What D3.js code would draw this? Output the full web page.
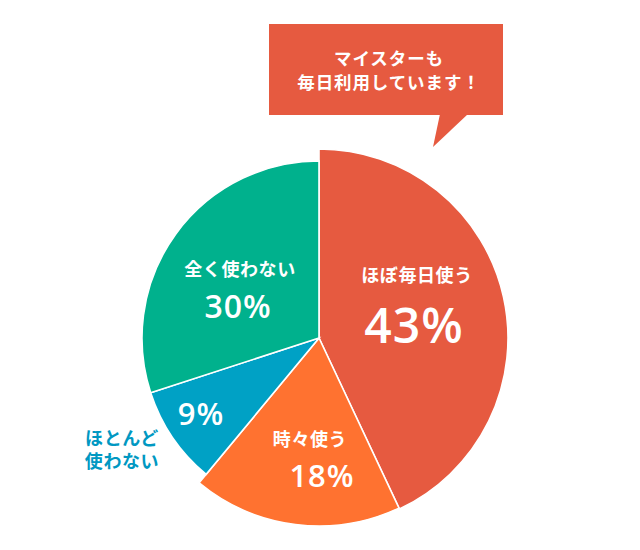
<!DOCTYPE html>
<html>
<head>
<meta charset="utf-8">
<script src="https://cdn.jsdelivr.net/npm/d3@7/dist/d3.min.js"></script>
<style>
  html, body { margin: 0; padding: 0; background: #fff; }
  svg { display: block; }
</style>
</head>
<body>
<svg id="chart" width="640" height="550"></svg>
<script>
// ---- data ----
const categories = ["ほぼ毎日使う", "時々使う", "ほとんど使わない", "全く使わない"];
const values = [43, 18, 9, 30];
const valueLabels = ["43%", "18%", "9%", "30%"];
const calloutLines = ["マイスターも", "毎日利用しています！"];
const outsideLines = ["ほとんど", "使わない"];

// ---- styles ----
const colors = ["#E65A40", "#FF7230", "#00A1C5", "#00B18D"];
const radii = [189, 188, 177, 177];
const cx = 319, cy = 338;
const jpFont = "'Noto Sans CJK JP', 'Noto Sans', sans-serif";
const numFont = "'Open Sans', 'Noto Sans', sans-serif";

const svg = d3.select("#chart");

// callout
const callout = svg.append("g");
callout.append("rect")
  .attr("x", 269).attr("y", 24).attr("width", 234).attr("height", 91)
  .attr("fill", colors[0]);
callout.append("path")
  .attr("d", "M440,114 L468,114 L433,147 Z")
  .attr("fill", colors[0]);
const ct = callout.append("text")
  .attr("text-anchor", "middle")
  .attr("fill", "#fff")
  .attr("font-family", jpFont)
  .attr("font-weight", 700)
  .attr("font-size", 17.5)
  .attr("letter-spacing", 0.9);
ct.selectAll("tspan").data(calloutLines).join("tspan")
  .attr("x", 389)
  .attr("y", (d, i) => 65 + i * 24)
  .text(d => d);

// pie
const pie = d3.pie().sort(null).value(d => d)(values);
const g = svg.append("g").attr("transform", `translate(${cx},${cy})`);
g.selectAll("path").data(pie).join("path")
  .attr("d", (d, i) => d3.arc().innerRadius(0).outerRadius(radii[i])(d))
  .attr("fill", (d, i) => colors[i])
  .attr("stroke", "#fff")
  .attr("stroke-width", 1.6)
  .attr("stroke-linejoin", "miter");

// label placement (relative to centre)
const nameLabels = [
  { i: 0, dx: 98, dy: -56, text: categories[0] },
  { i: 1, dx: -9, dy: 108, text: categories[1] },
  { i: 3, dx: -79, dy: -62, text: categories[3] }
];
const pctLabels = [
  { i: 0, dx: 95, dy: 5, size: 48 },
  { i: 1, dx: 3, dy: 149, size: 31 },
  { i: 2, dx: -118, dy: 87, size: 31 },
  { i: 3, dx: -81, dy: -20, size: 32 }
];

g.selectAll("text.name").data(nameLabels).join("text")
  .attr("class", "name")
  .attr("x", d => d.dx).attr("y", d => d.dy)
  .attr("text-anchor", "middle")
  .attr("fill", "#fff")
  .attr("font-family", jpFont)
  .attr("font-weight", 700)
  .attr("font-size", 18)
  .attr("letter-spacing", 0.6)
  .text(d => d.text);

g.selectAll("text.pct").data(pctLabels).join("text")
  .attr("class", "pct")
  .attr("x", d => d.dx).attr("y", d => d.dy)
  .attr("text-anchor", "middle")
  .attr("fill", "#fff")
  .attr("font-family", numFont)
  .attr("font-weight", 600)
  .attr("font-size", d => d.size)
  .attr("letter-spacing", 1)
  .text(d => valueLabels[d.i]);

// outside label for the small slice (one text, two lines)
const ot = g.append("text")
  .attr("class", "out")
  .attr("text-anchor", "middle")
  .attr("fill", "#0098C2")
  .attr("font-family", jpFont)
  .attr("font-weight", 700)
  .attr("font-size", 18)
  .attr("letter-spacing", 0.6);
ot.selectAll("tspan").data(outsideLines).join("tspan")
  .attr("x", -197)
  .attr("y", (d, i) => 107 + i * 23)
  .text(d => d);
</script>
</body>
</html>
